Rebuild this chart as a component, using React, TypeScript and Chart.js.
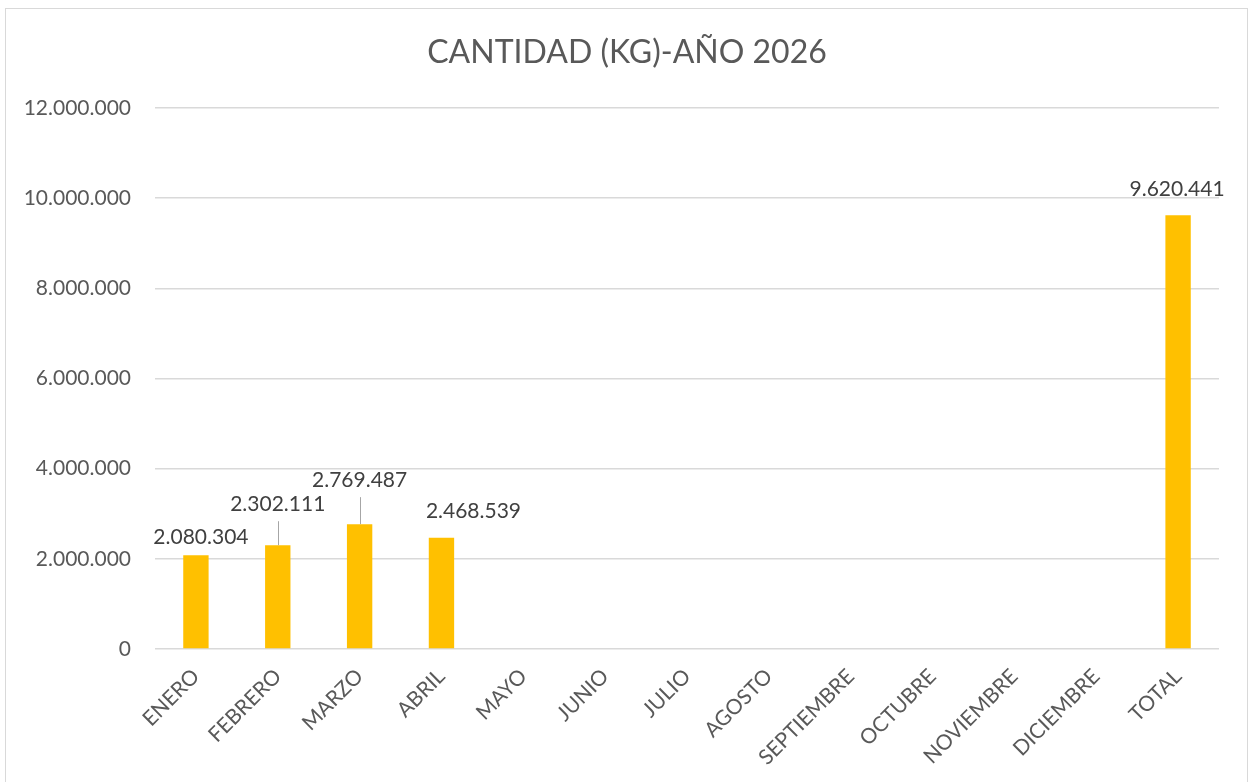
import React, { useEffect, useRef } from "react";
import { Chart, registerables } from "chart.js";

Chart.register(...registerables);

const categories = [
  "ENERO", "FEBRERO", "MARZO", "ABRIL", "MAYO", "JUNIO", "JULIO",
  "AGOSTO", "SEPTIEMBRE", "OCTUBRE", "NOVIEMBRE", "DICIEMBRE", "TOTAL",
];
const cantidadKg: (number | null)[] = [
  2080304, 2302111, 2769487, 2468539, null, null, null, null, null, null, null, null, 9620441,
];
const yTicks = [0, 2000000, 4000000, 6000000, 8000000, 10000000, 12000000];
const chartTitle = "CANTIDAD (KG)-AÑO 2026";

// label placement styling (pixel offsets from the bar top), and leader-line flags
const labelDx = [5, 0, 0, 32, 0, 0, 0, 0, 0, 0, 0, 0, -1];
const labelDy = [-18, -41, -44, -26, 0, 0, 0, 0, 0, 0, 0, 0, -26];
const labelLeader = [false, true, true, false, false, false, false, false, false, false, false, false, false];

const FONT = "Lato, 'Open Sans', sans-serif";

const fmt = (v: number) => String(Math.round(v)).replace(/\B(?=(\d{3})+(?!\d))/g, ".");

const titlePlugin = {
  id: "centeredTitle",
  afterDraw(chart: any) {
    const ctx = chart.ctx;
    ctx.save();
    ctx.font = `32px ${FONT}`;
    ctx.fillStyle = "#595959";
    ctx.textAlign = "center";
    ctx.textBaseline = "middle";
    ctx.fillText(chartTitle, chart.width / 2, 53);
    ctx.restore();
  },
};

const labelPlugin = {
  id: "barLabels",
  afterDatasetsDraw(chart: any) {
    const ctx = chart.ctx;
    const meta = chart.getDatasetMeta(0);
    ctx.save();
    ctx.font = `21px ${FONT}`;
    ctx.textAlign = "center";
    ctx.textBaseline = "middle";
    meta.data.forEach((bar: any, i: number) => {
      const v = cantidadKg[i];
      if (v === null || v === undefined) return;
      const tx = bar.x + labelDx[i];
      const ty = bar.y + labelDy[i];
      if (labelLeader[i]) {
        ctx.strokeStyle = "#a6a6a6";
        ctx.lineWidth = 1;
        ctx.beginPath();
        ctx.moveTo(Math.round(bar.x) + 0.5, ty + 17);
        ctx.lineTo(Math.round(bar.x) + 0.5, bar.y);
        ctx.stroke();
      }
      ctx.fillStyle = "#404040";
      ctx.fillText(fmt(v), tx, ty);
    });
    ctx.restore();
  },
};

export default function App() {
  const canvasRef = useRef<HTMLCanvasElement | null>(null);

  useEffect(() => {
    if (!canvasRef.current) return;
    const chart = new Chart(canvasRef.current, {
      type: "bar",
      data: {
        labels: categories,
        datasets: [
          {
            data: cantidadKg as any,
            backgroundColor: "#FFC000",
            borderWidth: 0,
            categoryPercentage: 1,
            barPercentage: 0.31,
          },
        ],
      },
      options: {
        animation: false,
        responsive: true,
        maintainAspectRatio: false,
        layout: { padding: { left: 0, right: 35, top: 108, bottom: 0 } },
        plugins: {
          legend: { display: false },
          tooltip: { enabled: false },
          title: { display: false },
        },
        scales: {
          x: {
            grid: { display: false, drawTicks: false },
            border: { display: false },
            ticks: {
              color: "#595959",
              font: { family: FONT, size: 21 },
              minRotation: 45,
              maxRotation: 45,
              autoSkip: false,
              padding: 15,
            },
            afterFit(scale: any) {
              scale.height = 133;
            },
          },
          y: {
            min: 0,
            max: 12000000,
            afterBuildTicks(scale: any) {
              scale.ticks = yTicks.map((v) => ({ value: v }));
            },
            grid: { color: "#d9d9d9", lineWidth: 1.5, drawTicks: false },
            border: { display: false },
            ticks: {
              color: "#595959",
              font: { family: FONT, size: 21 },
              padding: 24,
              callback: (v: any) => fmt(Number(v)),
            },
            afterFit(scale: any) {
              scale.width = 155;
            },
          },
        },
      },
      plugins: [labelPlugin, titlePlugin],
    });
    return () => chart.destroy();
  }, []);

  return (
    <div style={{ position: "fixed", left: 0, top: 0, width: 1254, height: 782, overflow: "hidden", background: "#fff" }}>
      <div
        style={{
          position: "absolute",
          left: 5,
          top: 8,
          width: 1243,
          height: 800,
          border: "1px solid #d9d9d9",
          boxSizing: "border-box",
        }}
      />
      <div style={{ position: "absolute", left: 0, top: 0, width: 1254, height: 782 }}>
        <canvas ref={canvasRef} />
      </div>
    </div>
  );
}
